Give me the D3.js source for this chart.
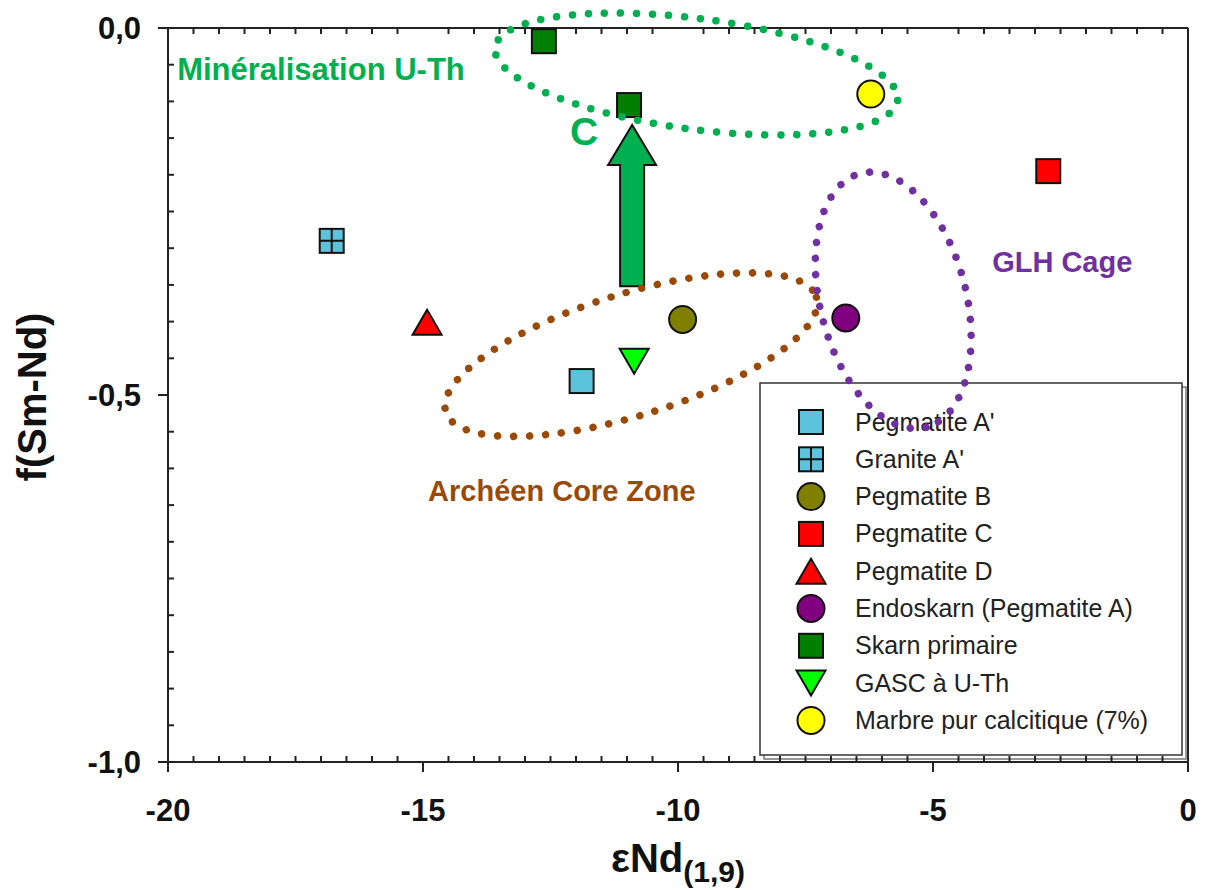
<!DOCTYPE html>
<html><head><meta charset="utf-8">
<script src="https://cdn.jsdelivr.net/npm/d3@7"></script>
<style>
html,body{margin:0;padding:0;background:#fff;}
svg text{font-family:"Liberation Sans",Arial,Helvetica,sans-serif;}
</style></head>
<body>
<svg id="chart" width="1205" height="890"></svg>
<script>
// ---------- data ----------
const seriesNames = ["Pegmatite A'", "Granite A'", "Pegmatite B", "Pegmatite C", "Pegmatite D",
  "Endoskarn (Pegmatite A)", "Skarn primaire", "GASC à U-Th", "Marbre pur calcitique (7%)"];
const seriesX = [[-11.89], [-16.79], [-9.91], [-2.74], [-14.92], [-6.71], [-12.63, -10.96], [-10.86], [-6.22]];
const seriesY = [[-0.481], [-0.290], [-0.397], [-0.195], [-0.401], [-0.395], [-0.018, -0.105], [-0.454], [-0.090]];
const seriesColors = ["#5bc3db", "#5bc3db", "#808000", "#ff0000", "#ff0000", "#800080", "#007f00", "#00ff00", "#ffff00"];
const seriesShapes = ["square", "squarecross", "circle", "square", "triup", "circle", "square", "tridown", "circle"];

const xTickValues = [-20, -15, -10, -5, 0];
const xTickLabels = ["-20", "-15", "-10", "-5", "0"];
const yTickValues = [0, -0.5, -1];
const yTickLabels = ["0,0", "-0,5", "-1,0"];

// annotation groups (centres in data units)
const groupNames = ["Minéralisation U-Th", "Archéen Core Zone", "GLH Cage"];
const groupColors = ["#00b050", "#9a4a06", "#7030a0"];
const groupCx = [-9.64, -10.92, -5.78];
const groupCy = [-0.0627, -0.445, -0.371];
const groupLabelX = [-19.82, -14.9, -3.84];
const groupLabelY = [-0.0708, -0.644, -0.332];

// ---------- layout ----------
const svg = d3.select("#chart");
const x = d3.scaleLinear().domain([-20, 0]).range([168, 1188]);
const y = d3.scaleLinear().domain([-1, 0]).range([762, 28]);
const axisColor = "#222";

// ---------- legend (drawn beneath ellipses) ----------
const lg = svg.append("g");
const lgX = 760, lgY = 383, lgW = 422, lgH = 372;
lg.append("rect").attr("x", lgX + 4).attr("y", lgY + 4).attr("width", lgW).attr("height", lgH)
  .attr("fill", "none").attr("stroke", "#777").attr("stroke-width", 1.5);
lg.append("rect").attr("x", lgX).attr("y", lgY).attr("width", lgW).attr("height", lgH)
  .attr("fill", "#fff").attr("stroke", "#333").attr("stroke-width", 1.5);

function drawMarker(g, shape, cx, cy, color) {
  let el;
  if (shape === "square" || shape === "squarecross") {
    const s = 24;
    el = g.append("rect").attr("x", cx - s / 2).attr("y", cy - s / 2).attr("width", s).attr("height", s);
    if (shape === "squarecross") {
      el.attr("fill", color).attr("stroke", "#111").attr("stroke-width", 2);
      g.append("path").attr("d", `M${cx - s / 2},${cy}H${cx + s / 2}M${cx},${cy - s / 2}V${cy + s / 2}`)
        .attr("stroke", "#111").attr("stroke-width", 2).attr("fill", "none");
      return;
    }
  } else if (shape === "circle") {
    el = g.append("circle").attr("cx", cx).attr("cy", cy).attr("r", 13.5);
  } else if (shape === "triup") {
    const w = 29, h = 25;
    el = g.append("path").attr("d", `M${cx},${cy - h / 2}L${cx + w / 2},${cy + h / 2}L${cx - w / 2},${cy + h / 2}Z`);
  } else if (shape === "tridown") {
    const w = 29, h = 25;
    el = g.append("path").attr("d", `M${cx},${cy + h / 2}L${cx + w / 2},${cy - h / 2}L${cx - w / 2},${cy - h / 2}Z`);
  }
  el.attr("fill", color).attr("stroke", "#111").attr("stroke-width", 2).attr("stroke-linejoin", "miter");
}

const rowH = 37.3;
seriesNames.forEach((name, i) => {
  const cy = 422 + i * rowH;
  drawMarker(lg, seriesShapes[i], 811, cy, seriesColors[i]);
  lg.append("text").attr("x", 855).attr("y", cy + 8.5).attr("font-size", 25)
    .attr("fill", "#222").text(name);
});

// ---------- axes ----------
const ax = svg.append("g");
ax.append("line").attr("x1", x(-20) - 10).attr("x2", x(0)).attr("y1", y(-1)).attr("y2", y(-1));
ax.append("line").attr("x1", x(-20) - 10).attr("x2", x(0)).attr("y1", y(0)).attr("y2", y(0));
ax.append("line").attr("x1", x(-20)).attr("x2", x(-20)).attr("y1", y(0)).attr("y2", y(-1) + 10);
ax.append("line").attr("x1", x(0)).attr("x2", x(0)).attr("y1", y(0)).attr("y2", y(-1) + 10);
const xMinor = d3.range(-19.5, 0, 0.5).filter(v => Math.abs(v % 5) > 1e-6);
xTickValues.forEach(v => ax.append("line").attr("x1", x(v)).attr("x2", x(v)).attr("y1", y(-1)).attr("y2", y(-1) + 10));
xMinor.forEach(v => {
  ax.append("line").attr("x1", x(v)).attr("x2", x(v)).attr("y1", y(-1)).attr("y2", y(-1) - 6);
  ax.append("line").attr("x1", x(v)).attr("x2", x(v)).attr("y1", y(0)).attr("y2", y(0) + 6);
});
const yMinor = d3.range(1, 20).map(k => -k * 0.05).filter(v => Math.abs(v + 0.5) > 1e-6);
yTickValues.forEach(v => ax.append("line").attr("x1", x(-20) - 10).attr("x2", x(-20)).attr("y1", y(v)).attr("y2", y(v)));
yMinor.forEach(v => ax.append("line").attr("x1", x(-20)).attr("x2", x(-20) + 6).attr("y1", y(v)).attr("y2", y(v)));
ax.selectAll("line").attr("stroke", axisColor).attr("stroke-width", 2);

xTickValues.forEach((v, i) => ax.append("text").attr("x", x(v)).attr("y", 821).attr("text-anchor", "middle")
  .attr("font-size", 31).attr("font-weight", "bold").attr("fill", "#111").text(xTickLabels[i]));
yTickValues.forEach((v, i) => ax.append("text").attr("x", 141).attr("y", y(v) + 11).attr("text-anchor", "end")
  .attr("font-size", 31).attr("font-weight", "bold").attr("fill", "#111").text(yTickLabels[i]));

const xt = ax.append("text").attr("x", 678).attr("y", 872).attr("text-anchor", "middle")
  .attr("font-weight", "bold").attr("fill", "#111");
xt.append("tspan").attr("font-size", 40).text("εNd");
xt.append("tspan").attr("font-size", 30).attr("dy", 10).text("(1,9)");
ax.append("text").attr("transform", "translate(46,397) rotate(-90)").attr("text-anchor", "middle")
  .attr("font-size", 40).attr("font-weight", "bold").attr("fill", "#111").text("f(Sm-Nd)");

// ---------- data points ----------
const pts = svg.append("g");
seriesNames.forEach((name, i) => {
  seriesX[i].forEach((vx, j) => drawMarker(pts, seriesShapes[i], x(vx), y(seriesY[i][j]), seriesColors[i]));
});

// ---------- arrow ----------
const arrowX = -10.9, arrowTop = -0.132, arrowBottom = -0.352;
const ax0 = x(arrowX), yt = y(arrowTop), yb = y(arrowBottom);
svg.append("path")
  .attr("d", `M${ax0},${yt}L${ax0 + 24},${yt + 40}L${ax0 + 12},${yt + 40}L${ax0 + 12},${yb}L${ax0 - 12},${yb}L${ax0 - 12},${yt + 40}L${ax0 - 24},${yt + 40}Z`)
  .attr("fill", "#00b050").attr("stroke", "#111").attr("stroke-width", 2);

// ---------- dotted ellipses ----------
const ellRx = [203, 194, 131];
const ellRy = [55.4, 61, 73];
const ellRot = [7.5, -17.2, 75.5];
groupNames.forEach((n, i) => {
  svg.append("ellipse").attr("cx", 0).attr("cy", 0).attr("rx", ellRx[i]).attr("ry", ellRy[i])
    .attr("transform", `translate(${x(groupCx[i])},${y(groupCy[i])}) rotate(${ellRot[i]})`)
    .attr("fill", "none").attr("stroke", groupColors[i]).attr("stroke-width", 7.5)
    .attr("stroke-linecap", "round").attr("stroke-dasharray", "0 16");
});

// ---------- annotation labels ----------
const lblSize = [31, 29, 29];
groupNames.forEach((n, i) => {
  svg.append("text").attr("x", x(groupLabelX[i])).attr("y", y(groupLabelY[i]))
    .attr("font-size", lblSize[i]).attr("font-weight", "bold").attr("fill", groupColors[i]).text(n);
});
svg.append("text").attr("x", x(-11.84)).attr("y", y(-0.159)).attr("text-anchor", "middle")
  .attr("font-size", 39).attr("font-weight", "bold").attr("fill", "#00b050").text("C");
</script>
</body></html>
